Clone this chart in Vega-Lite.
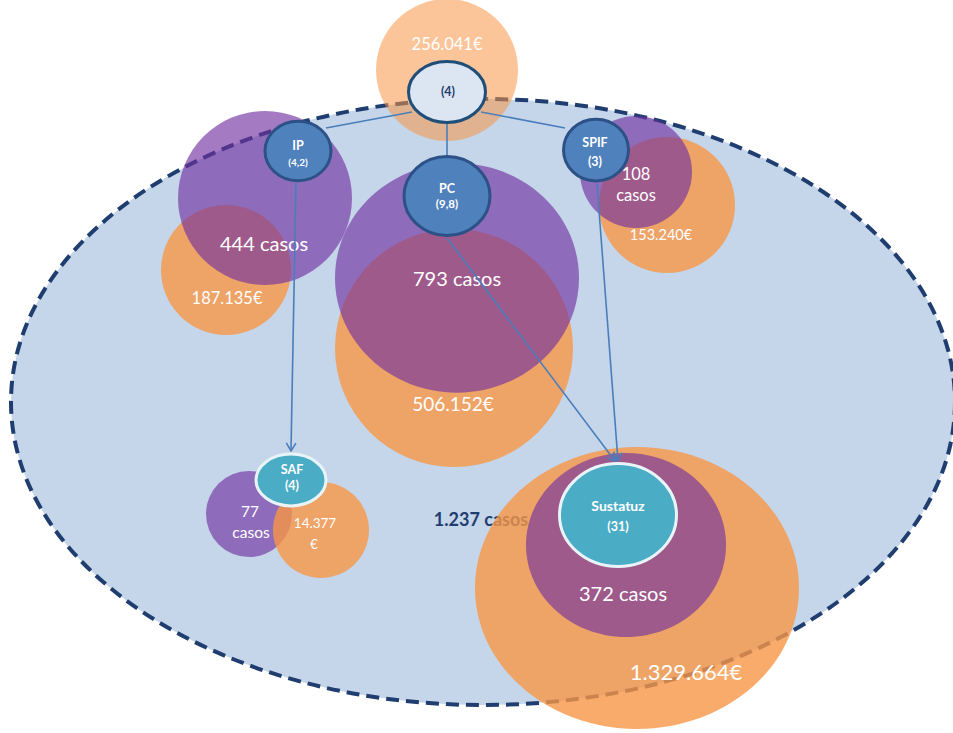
{
  "$schema": "https://vega.github.io/schema/vega-lite/v6.json",
  "width": 953,
  "height": 733,
  "padding": 0,
  "autosize": {"type": "none"},
  "background": "#ffffff",
  "config": {"view": {"stroke": null}, "font": "Lato"},
  "datasets": {
    "marco": [{"x": 483, "y": 402, "rx": 472}],
    "total": [{"x": 481, "y": 521, "texto": "1.237 casos"}],
    "burbujas": [
      {"id": "top_e", "medida": "euros", "nivel": "total", "x": 447, "y": 70, "rx": 71},
      {"id": "ip_e", "medida": "euros", "nivel": "programa", "x": 226, "y": 270, "rx": 65},
      {"id": "ip_c", "medida": "casos", "nivel": "programa", "x": 265, "y": 198, "rx": 87},
      {"id": "pc_e", "medida": "euros", "nivel": "programa", "x": 454, "y": 348, "rx": 119},
      {"id": "pc_c", "medida": "casos", "nivel": "programa", "x": 457, "y": 278, "rx": 122},
      {"id": "spif_e", "medida": "euros", "nivel": "programa", "x": 667, "y": 205, "rx": 68},
      {"id": "spif_c", "medida": "casos", "nivel": "programa", "x": 636, "y": 172, "rx": 56},
      {"id": "saf_c", "medida": "casos", "nivel": "programa", "x": 249, "y": 514, "rx": 43},
      {"id": "saf_e", "medida": "euros", "nivel": "programa", "x": 321, "y": 530, "rx": 48},
      {"id": "sus_e", "medida": "euros", "nivel": "programa", "x": 637, "y": 588, "rx": 162},
      {"id": "sus_c", "medida": "casos", "nivel": "programa", "x": 626, "y": 545, "rx": 100}
    ],
    "etiquetas": [
      {"texto": "256.041€", "x": 447, "y": 45, "tam": "C"},
      {"texto": "444 casos", "x": 264, "y": 245, "tam": "E"},
      {"texto": "187.135€", "x": 227, "y": 299, "tam": "C"},
      {"texto": "793 casos", "x": 457, "y": 280, "tam": "E"},
      {"texto": "506.152€", "x": 453, "y": 405, "tam": "D"},
      {"texto": "108", "x": 636, "y": 175, "tam": "C"},
      {"texto": "casos", "x": 636, "y": 196, "tam": "C"},
      {"texto": "153.240€", "x": 661, "y": 236, "tam": "B"},
      {"texto": "77", "x": 250, "y": 512, "tam": "S"},
      {"texto": "casos", "x": 251, "y": 533, "tam": "S"},
      {"texto": "14.377", "x": 315, "y": 524, "tam": "A"},
      {"texto": "€", "x": 314, "y": 545, "tam": "A"},
      {"texto": "372 casos", "x": 623, "y": 595, "tam": "E"},
      {"texto": "1.329.664€", "x": 686, "y": 673, "tam": "F"}
    ],
    "enlaces": [
      {"x": 412, "y": 112, "x2": 326, "y2": 128, "flecha": false},
      {"x": 447, "y": 123, "x2": 447, "y2": 155, "flecha": false},
      {"x": 481, "y": 112, "x2": 565, "y2": 128, "flecha": false},
      {"x": 296, "y": 183, "x2": 291, "y2": 451, "flecha": true},
      {"x": 447, "y": 238, "x2": 615, "y2": 461, "flecha": true},
      {"x": 597, "y": 184, "x2": 618, "y2": 461, "flecha": true}
    ],
    "nodos": [
      {"id": "raiz", "tipo": "raiz", "x": 447, "y": 92, "rx": 38.5},
      {"id": "ip", "tipo": "programa", "x": 298, "y": 151, "rx": 33},
      {"id": "pc", "tipo": "programa", "x": 447, "y": 196, "rx": 43},
      {"id": "spif", "tipo": "programa", "x": 596, "y": 150, "rx": 32.5},
      {"id": "saf", "tipo": "destino", "x": 291, "y": 480, "rx": 35},
      {"id": "sus", "tipo": "destino", "x": 618, "y": 515, "rx": 58.5}
    ],
    "rotulos": [
      {"texto": "(4)", "tipo": "raiz", "x": 448, "y": 92, "tam": "C"},
      {"texto": "IP", "tipo": "programa", "x": 298, "y": 146, "tam": "C"},
      {"texto": "(4,2)", "tipo": "programa", "x": 298, "y": 163, "tam": "A"},
      {"texto": "PC", "tipo": "programa", "x": 447, "y": 189, "tam": "C"},
      {"texto": "(9,8)", "tipo": "programa", "x": 447, "y": 205, "tam": "B"},
      {"texto": "SPIF", "tipo": "programa", "x": 595, "y": 143, "tam": "C"},
      {"texto": "(3)", "tipo": "programa", "x": 595, "y": 162, "tam": "C"},
      {"texto": "SAF", "tipo": "destino", "x": 292, "y": 470, "tam": "C"},
      {"texto": "(4)", "tipo": "destino", "x": 292, "y": 486, "tam": "C"},
      {"texto": "Sustatuz", "tipo": "destino", "x": 618, "y": 507, "tam": "D"},
      {"texto": "(31)", "tipo": "destino", "x": 618, "y": 527, "tam": "C"}
    ]
  },
  "encoding": {
    "x": {"field": "x", "type": "quantitative", "scale": {"domain": [0, 953], "nice": false, "zero": false}, "axis": null},
    "y": {"field": "y", "type": "quantitative", "scale": {"domain": [0, 733], "nice": false, "zero": false, "reverse": true}, "axis": null}
  },
  "layer": [
    {
      "data": {"name": "marco"},
      "mark": {
        "type": "point",
        "shape": "M1,0C1,0.3546 0.5523,0.642 0,0.642C-0.5523,0.642 -1,0.3546 -1,0C-1,-0.3546 -0.5523,-0.642 0,-0.642C0.5523,-0.642 1,-0.3546 1,0Z",
        "filled": true,
        "fill": "#c5d6ea",
        "stroke": "#1f3d6e",
        "strokeWidth": 4,
        "strokeDash": [13, 7],
        "opacity": 1
      },
      "encoding": {
        "size": {"field": "rx", "type": "quantitative", "scale": {"type": "pow", "exponent": 2, "domain": [0, 100], "range": [0, 40000]}, "legend": null}
      }
    },
    {
      "data": {"name": "total"},
      "mark": {"type": "text", "font": "Lato", "fontWeight": "bold", "fontSize": 18, "fill": "#1f3d6e", "align": "center", "baseline": "middle"},
      "encoding": {"text": {"field": "texto"}}
    },
    {
      "data": {"name": "burbujas"},
      "mark": {"type": "point", "filled": true, "opacity": 1, "strokeWidth": 0},
      "encoding": {
        "shape": {
          "field": "id", "type": "nominal", "legend": null,
          "scale": {
            "domain": ["top_e", "ip_e", "ip_c", "pc_e", "pc_c", "spif_e", "spif_c", "saf_c", "saf_e", "sus_e", "sus_c"],
            "range": [
              "circle", "circle", "circle", "circle",
              "M1,0C1,0.5192 0.5523,0.94 0,0.94C-0.5523,0.94 -1,0.5192 -1,0C-1,-0.5192 -0.5523,-0.94 0,-0.94C0.5523,-0.94 1,-0.5192 1,0Z",
              "circle", "circle", "circle", "circle",
              "M1,0C1,0.4805 0.5523,0.87 0,0.87C-0.5523,0.87 -1,0.4805 -1,0C-1,-0.4805 -0.5523,-0.87 0,-0.87C0.5523,-0.87 1,-0.4805 1,0Z",
              "M1,0C1,0.5081 0.5523,0.92 0,0.92C-0.5523,0.92 -1,0.5081 -1,0C-1,-0.5081 -0.5523,-0.92 0,-0.92C0.5523,-0.92 1,-0.5081 1,0Z"
            ]
          }
        },
        "size": {"field": "rx", "type": "quantitative", "scale": {"type": "pow", "exponent": 2, "domain": [0, 100], "range": [0, 40000]}, "legend": null},
        "fill": {"field": "medida", "type": "nominal", "scale": {"domain": ["casos", "euros"], "range": ["#7030a0", "#f79646"]}, "legend": null},
        "fillOpacity": {
          "condition": [
            {"test": "datum.nivel === 'total'", "value": 0.55},
            {"test": "datum.medida === 'casos'", "value": 0.64}
          ],
          "value": 0.8
        }
      }
    },
    {
      "data": {"name": "etiquetas"},
      "mark": {"type": "text", "font": "Lato", "fill": "#ffffff", "align": "center", "baseline": "middle"},
      "encoding": {
        "text": {"field": "texto"},
        "size": {
          "condition": [
            {"test": "datum.tam === 'A'", "value": 13.5},
            {"test": "datum.tam === 'B'", "value": 14.5},
            {"test": "datum.tam === 'S'", "value": 15.5},
            {"test": "datum.tam === 'C'", "value": 16.5},
            {"test": "datum.tam === 'D'", "value": 19},
            {"test": "datum.tam === 'F'", "value": 22}
          ],
          "value": 20
        }
      }
    },
    {
      "data": {"name": "enlaces"},
      "mark": {"type": "rule", "stroke": "#4a7ebb", "strokeWidth": 1.6},
      "encoding": {
        "x2": {"field": "x2"},
        "y2": {"field": "y2"}
      }
    },
    {
      "data": {"name": "enlaces"},
      "transform": [
        {"filter": "datum.flecha"},
        {"calculate": "atan2(-(datum.x2 - datum.x), datum.y2 - datum.y) * 180 / PI", "as": "rumbo"}
      ],
      "mark": {"type": "point", "shape": "M-0.6,-1L0,0L0.6,-1", "filled": false, "color": "#4a7ebb", "strokeWidth": 1.6, "opacity": 1, "size": 256},
      "encoding": {
        "x": {"field": "x2", "type": "quantitative", "scale": {"domain": [0, 953], "nice": false, "zero": false}, "axis": null},
        "y": {"field": "y2", "type": "quantitative", "scale": {"domain": [0, 733], "nice": false, "zero": false, "reverse": true}, "axis": null},
        "angle": {"field": "rumbo", "type": "quantitative", "scale": null}
      }
    },
    {
      "data": {"name": "nodos"},
      "mark": {"type": "point", "filled": true, "opacity": 1, "strokeWidth": 3},
      "encoding": {
        "shape": {
          "field": "id", "type": "nominal", "legend": null,
          "scale": {
            "domain": ["raiz", "ip", "pc", "spif", "saf", "sus"],
            "range": [
              "M1,0C1,0.4363 0.5523,0.79 0,0.79C-0.5523,0.79 -1,0.4363 -1,0C-1,-0.4363 -0.5523,-0.79 0,-0.79C0.5523,-0.79 1,-0.4363 1,0Z",
              "M1,0C1,0.4971 0.5523,0.9 0,0.9C-0.5523,0.9 -1,0.4971 -1,0C-1,-0.4971 -0.5523,-0.9 0,-0.9C0.5523,-0.9 1,-0.4971 1,0Z",
              "M1,0C1,0.5081 0.5523,0.92 0,0.92C-0.5523,0.92 -1,0.5081 -1,0C-1,-0.5081 -0.5523,-0.92 0,-0.92C0.5523,-0.92 1,-0.5081 1,0Z",
              "M1,0C1,0.5247 0.5523,0.95 0,0.95C-0.5523,0.95 -1,0.5247 -1,0C-1,-0.5247 -0.5523,-0.95 0,-0.95C0.5523,-0.95 1,-0.5247 1,0Z",
              "M1,0C1,0.4087 0.5523,0.74 0,0.74C-0.5523,0.74 -1,0.4087 -1,0C-1,-0.4087 -0.5523,-0.74 0,-0.74C0.5523,-0.74 1,-0.4087 1,0Z",
              "M1,0C1,0.486 0.5523,0.88 0,0.88C-0.5523,0.88 -1,0.486 -1,0C-1,-0.486 -0.5523,-0.88 0,-0.88C0.5523,-0.88 1,-0.486 1,0Z"
            ]
          }
        },
        "size": {"field": "rx", "type": "quantitative", "scale": {"type": "pow", "exponent": 2, "domain": [0, 100], "range": [0, 40000]}, "legend": null},
        "fill": {"field": "tipo", "type": "nominal", "scale": {"domain": ["raiz", "programa", "destino"], "range": ["#dce6f2", "#4f81bd", "#4bacc6"]}, "legend": null},
        "stroke": {"field": "tipo", "type": "nominal", "scale": {"domain": ["raiz", "programa", "destino"], "range": ["#1f4e79", "#2c5186", "#e8f4f8"]}, "legend": null}
      }
    },
    {
      "data": {"name": "rotulos"},
      "mark": {"type": "text", "font": "Lato", "fontWeight": "bold", "align": "center", "baseline": "middle"},
      "encoding": {
        "text": {"field": "texto"},
        "size": {
          "condition": [
            {"test": "datum.tam === 'A'", "value": 10},
            {"test": "datum.tam === 'B'", "value": 11.5},
            {"test": "datum.tam === 'D'", "value": 14}
          ],
          "value": 12.5
        },
        "fill": {"field": "tipo", "type": "nominal", "scale": {"domain": ["raiz", "programa", "destino"], "range": ["#1f3d6e", "#ffffff", "#ffffff"]}, "legend": null}
      }
    }
  ],
  "resolve": {
    "scale": {"shape": "independent", "size": "independent", "fill": "independent", "stroke": "independent", "color": "independent", "angle": "independent"}
  }
}
